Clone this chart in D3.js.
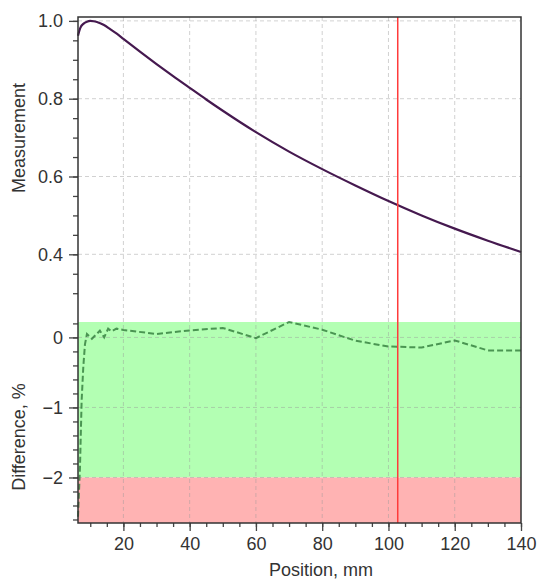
<!DOCTYPE html>
<html>
<head>
<meta charset="utf-8">
<script src="https://cdn.jsdelivr.net/npm/d3@7"></script>
<style>
  body { margin: 0; background: #fff; }
  text { font-family: "Liberation Sans", Arial, sans-serif; fill: #333; }
</style>
</head>
<body>
<div class="graphic"></div>
<script>
// measurement curve
const measX = [6.3, 7, 8, 9, 10, 11, 12, 14, 16, 18, 20, 25, 30, 35, 40, 45, 50, 60, 70, 80, 90, 100, 110, 120, 130, 140];
const measY = [0.962, 0.982, 0.993, 0.998, 1.0, 0.999, 0.997, 0.99, 0.979, 0.967, 0.954, 0.921, 0.889, 0.858, 0.828, 0.798, 0.769, 0.714, 0.664, 0.619, 0.577, 0.537, 0.5, 0.466, 0.435, 0.406];

// difference, %
const diffX = [6.3, 6.9, 7.4, 7.9, 8.4, 9.0, 10.5, 12.9, 14.2, 15.4, 16.4, 17.9, 20, 30, 40, 50, 60, 70, 80, 90, 100, 110, 120, 130, 140];
const diffY = [-2.56, -1.85, -0.9, -0.42, -0.1, 0.05, -0.02, 0.096, 0.0, 0.125, 0.086, 0.125, 0.106, 0.049, 0.1, 0.135, -0.01, 0.22, 0.11, -0.047, -0.13, -0.144, -0.043, -0.186, -0.186];

const xTicks = [20, 40, 60, 80, 100, 120, 140];
const measTicks = [0.4, 0.6, 0.8, 1.0];
const diffTicks = [-2, -1, 0];
const okBand = [-2, 0.22];
const badBand = [-2.65, -2];
const marker = 102.8;

const W = 539, H = 579;
const pLeft = 78, pRight = 521, pTop = 17, pSplit = 322, pBottom = 523;

const x = d3.scaleLinear().domain([6.3, 140]).range([pLeft, pRight]);
const yM = d3.scaleLinear().domain([0.226, 1.01]).range([pSplit, pTop]);
const yD = d3.scaleLinear().domain([-2.65, 0.22]).range([pBottom, pSplit]);

const svg = d3.select('.graphic').append('svg')
  .attr('width', W).attr('height', H);

// bands
svg.append('rect')
  .attr('x', pLeft).attr('width', pRight - pLeft)
  .attr('y', yD(okBand[1])).attr('height', yD(okBand[0]) - yD(okBand[1]))
  .attr('fill', '#b3ffb3');
svg.append('rect')
  .attr('x', pLeft).attr('width', pRight - pLeft)
  .attr('y', yD(badBand[1])).attr('height', yD(badBand[0]) - yD(badBand[1]))
  .attr('fill', '#ffb3b3');

// grid
const grid = svg.append('g')
  .attr('stroke', '#999').attr('stroke-opacity', 0.45)
  .attr('stroke-dasharray', '4,3').attr('stroke-width', 1);
grid.selectAll('line.v').data(xTicks.slice(0, -1)).enter().append('line')
  .attr('x1', d => x(d)).attr('x2', d => x(d))
  .attr('y1', pTop).attr('y2', pBottom);
grid.selectAll('line.hm').data(measTicks).enter().append('line')
  .attr('x1', pLeft).attr('x2', pRight)
  .attr('y1', d => yM(d)).attr('y2', d => yM(d));
grid.selectAll('line.hd').data(diffTicks).enter().append('line')
  .attr('x1', pLeft).attr('x2', pRight)
  .attr('y1', d => yD(d)).attr('y2', d => yD(d));

// curves
const measLine = d3.line()
  .x((d, i) => x(measX[i]))
  .y(d => yM(d))
  .curve(d3.curveMonotoneX);
svg.append('path')
  .datum(measY)
  .attr('d', measLine)
  .attr('fill', 'none')
  .attr('stroke', '#45194f')
  .attr('stroke-width', 2.2);

const diffLine = d3.line()
  .x((d, i) => x(diffX[i]))
  .y(d => yD(d));
svg.append('path')
  .datum(diffY)
  .attr('d', diffLine)
  .attr('fill', 'none')
  .attr('stroke', '#2f7a3a')
  .attr('stroke-opacity', 0.8)
  .attr('stroke-width', 2)
  .attr('stroke-dasharray', '6,3');

// marker
svg.append('line')
  .attr('x1', x(marker)).attr('x2', x(marker))
  .attr('y1', pTop).attr('y2', pBottom)
  .attr('stroke', '#ff3b3b').attr('stroke-width', 1.5);

// axes
const fmtMinus = s => s.replace('-', '\u2212');

svg.append('g')
  .attr('transform', `translate(0,${pBottom})`)
  .call(d3.axisBottom(x).tickValues(d3.range(10, 141, 5)).tickSize(4).tickFormat(''))
  .call(g => g.select('.domain').remove());
svg.append('g')
  .attr('transform', `translate(0,${pBottom})`)
  .call(d3.axisBottom(x).tickValues(xTicks).tickSize(8).tickPadding(6).tickFormat(d3.format('d')))
  .call(g => g.select('.domain').remove());

svg.append('g')
  .attr('transform', `translate(${pLeft},0)`)
  .call(d3.axisLeft(yM).tickValues(d3.range(0.3, 1.001, 0.05)).tickSize(5).tickFormat(''))
  .call(g => g.select('.domain').remove());
svg.append('g')
  .attr('transform', `translate(${pLeft},0)`)
  .call(d3.axisLeft(yM).tickValues(measTicks).tickSize(9).tickPadding(6).tickFormat(d3.format('.1f')))
  .call(g => g.select('.domain').remove());

svg.append('g')
  .attr('transform', `translate(${pLeft},0)`)
  .call(d3.axisLeft(yD).tickValues(d3.range(-2.6, 0.21, 0.2)).tickSize(5).tickFormat(''))
  .call(g => g.select('.domain').remove());
svg.append('g')
  .attr('transform', `translate(${pLeft},0)`)
  .call(d3.axisLeft(yD).tickValues(diffTicks).tickSize(9).tickPadding(6).tickFormat(d => fmtMinus(d3.format('d')(d))))
  .call(g => g.select('.domain').remove());

svg.selectAll('.tick line').attr('stroke', '#444').attr('stroke-width', 1.3);
svg.selectAll('.tick text').attr('font-size', 18).style('font-family', '"Liberation Sans", Arial, sans-serif').attr('fill', '#333');

// frame
svg.append('rect')
  .attr('x', pLeft).attr('y', pTop)
  .attr('width', pRight - pLeft).attr('height', pBottom - pTop)
  .attr('fill', 'none').attr('stroke', '#333').attr('stroke-width', 1.5);

// titles
svg.append('text')
  .attr('transform', 'translate(25,138) rotate(-90)')
  .attr('text-anchor', 'middle')
  .attr('font-size', 18)
  .text('Measurement');
svg.append('text')
  .attr('transform', 'translate(25,437) rotate(-90)')
  .attr('text-anchor', 'middle')
  .attr('font-size', 18)
  .text('Difference, %');
svg.append('text')
  .attr('x', 321).attr('y', 576)
  .attr('text-anchor', 'middle')
  .attr('font-size', 18)
  .text('Position, mm');
</script>
</body>
</html>
